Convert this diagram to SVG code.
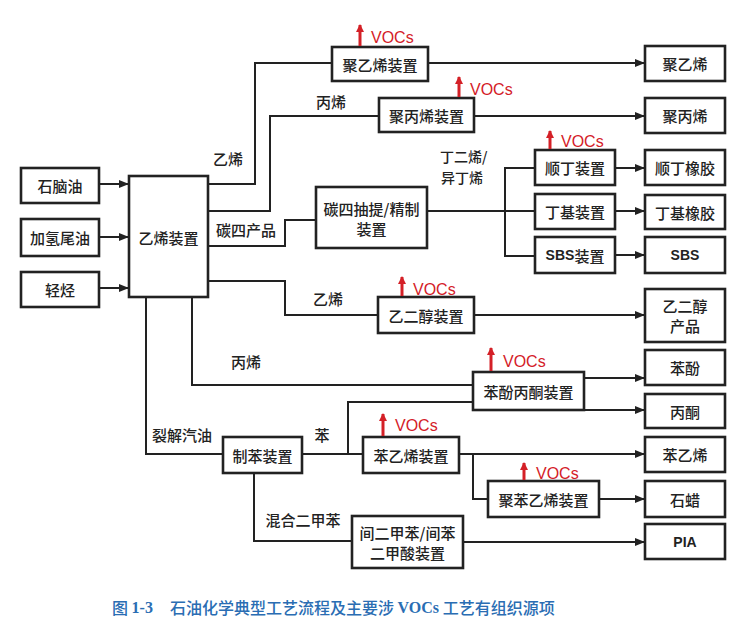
<svg xmlns="http://www.w3.org/2000/svg" width="746" height="637" viewBox="0 0 746 637">
<style>
.box{fill:#fff;stroke:#222;stroke-width:2.6}
.ln{fill:none;stroke:#222;stroke-width:2}
.arr{marker-end:url(#ah)}
.t{font-family:"Noto Sans CJK SC","Noto Sans",sans-serif;font-size:15px;font-weight:500;fill:#222;text-anchor:middle;dominant-baseline:central}
.l{font-family:"Noto Sans CJK SC","Noto Sans",sans-serif;font-size:14px;font-weight:500;fill:#222;dominant-baseline:central}
.lat{font-family:"Liberation Sans",sans-serif;font-weight:bold;font-size:14px}
.voc{font-family:"Liberation Sans",sans-serif;font-size:16px;fill:#d42027}
.va{stroke:#d42027;stroke-width:3;marker-end:url(#rh)}
.cap{font-family:"Noto Sans CJK SC",sans-serif;font-size:16px;font-weight:500;fill:#2a6db3;dominant-baseline:central}
.capl{font-family:"Liberation Serif",serif;font-weight:bold}
</style>
<defs>
<marker id="ah" markerWidth="10" markerHeight="8" refX="9" refY="4" orient="auto" markerUnits="userSpaceOnUse"><path d="M0,0 L10,4 L0,8 z" fill="#222"/></marker>
<marker id="rh" markerWidth="8" markerHeight="9" refX="7" refY="4" orient="auto" markerUnits="userSpaceOnUse"><path d="M0,0 L8,4 L0,8 z" fill="#d42027"/></marker>
</defs>
<rect width="746" height="637" fill="#fff"/>

<g id="connectors">
<path class="ln arr" d="M99,184 H128"/>
<path class="ln arr" d="M99,237 H128"/>
<path class="ln arr" d="M99,288 H128"/>
<path class="ln" d="M208,184 H255 V63 H332"/>
<path class="ln" d="M208,211 H270 V116 H379"/>
<path class="ln" d="M208,246 H285 V220 H316"/>
<path class="ln" d="M208,281 H285 V315 H378"/>
<path class="ln" d="M146,297 V454 H223"/>
<path class="ln" d="M192,297 V385 H473"/>
<path class="ln arr" d="M428,63 H644"/>
<path class="ln arr" d="M474,116 H644"/>
<path class="ln" d="M427,211 H535"/>
<path class="ln" d="M535,168 H505 V256 H535"/>
<path class="ln arr" d="M615,168 H644"/>
<path class="ln arr" d="M615,211 H644"/>
<path class="ln arr" d="M615,255 H644"/>
<path class="ln arr" d="M474,315 H644"/>
<path class="ln arr" d="M584,378 H644"/>
<path class="ln arr" d="M584,410 H644"/>
<path class="ln" d="M302,454 H363"/>
<path class="ln" d="M348,454 V402 H473"/>
<path class="ln arr" d="M459,454 H644"/>
<path class="ln" d="M473,454 V499 H488"/>
<path class="ln arr" d="M599,499 H644"/>
<path class="ln" d="M254,473 V541 H352"/>
<path class="ln arr" d="M463,542 H644"/>
</g>

<g id="edge-labels">
<text class="t" x="228" y="158">乙烯</text>
<text class="t" x="331" y="101">丙烯</text>
<text class="t" x="246" y="229">碳四产品</text>
<text class="t" x="328" y="298">乙烯</text>
<text class="l" x="440" y="156">丁二烯/<tspan x="441" dy="20.5">异丁烯</tspan></text>
<text class="t" x="246" y="361">丙烯</text>
<text class="t" x="182" y="434">裂解汽油</text>
<text class="t" x="322" y="434">苯</text>
<text class="t" x="303" y="519">混合二甲苯</text>
</g>

<g id="n-naphtha"><rect class="box" x="21" y="168" width="78" height="35"/><text class="t" x="60" y="185.5">石脑油</text></g>
<g id="n-hto"><rect class="box" x="21" y="219" width="78" height="37"/><text class="t" x="60" y="237.5">加氢尾油</text></g>
<g id="n-lh"><rect class="box" x="21" y="272" width="78" height="35"/><text class="t" x="60" y="289.5">轻烃</text></g>
<g id="n-ethylene"><rect class="box" x="129" y="176" width="79" height="121"/><text class="t" x="168.5" y="237">乙烯装置</text></g>

<g id="n-pe-unit"><rect class="box" x="332" y="47" width="96" height="34"/><text class="t" x="380" y="64">聚乙烯装置</text>
<line class="va" x1="360" y1="46" x2="360" y2="25"/><text class="voc" x="371" y="43">VOCs</text></g>
<g id="n-pp-unit"><rect class="box" x="379" y="98" width="95" height="34"/><text class="t" x="426.5" y="115">聚丙烯装置</text>
<line class="va" x1="459" y1="97" x2="459" y2="77"/><text class="voc" x="470" y="95">VOCs</text></g>
<g id="n-c4"><rect class="box" x="316" y="187" width="111" height="61"/><text class="t" x="371.5" y="208">碳四抽提/精制</text><text class="t" x="371.5" y="228">装置</text></g>

<g id="n-br-unit"><rect class="box" x="535" y="150" width="80" height="35"/><text class="t" x="575" y="167.5">顺丁装置</text>
<line class="va" x1="550" y1="149" x2="550" y2="131"/><text class="voc" x="561" y="147">VOCs</text></g>
<g id="n-iir-unit"><rect class="box" x="535" y="194" width="80" height="35"/><text class="t" x="575" y="211.5">丁基装置</text></g>
<g id="n-sbs-unit"><rect class="box" x="535" y="237" width="80" height="36"/><text class="t" x="575" y="255"><tspan class="lat">SBS</tspan>装置</text></g>

<g id="n-pe"><rect class="box" x="645" y="46" width="80" height="35"/><text class="t" x="685" y="63.5">聚乙烯</text></g>
<g id="n-pp"><rect class="box" x="645" y="98" width="80" height="35"/><text class="t" x="685" y="115.5">聚丙烯</text></g>
<g id="n-br"><rect class="box" x="645" y="150" width="80" height="35"/><text class="t" x="685" y="167.5">顺丁橡胶</text></g>
<g id="n-iir"><rect class="box" x="645" y="195" width="80" height="34"/><text class="t" x="685" y="212">丁基橡胶</text></g>
<g id="n-sbs"><rect class="box" x="645" y="237" width="80" height="36"/><text class="t lat" x="685" y="255">SBS</text></g>

<g id="n-eg-unit"><rect class="box" x="378" y="297" width="96" height="36"/><text class="t" x="426" y="315">乙二醇装置</text>
<line class="va" x1="402" y1="296" x2="402" y2="277"/><text class="voc" x="413" y="295">VOCs</text></g>
<g id="n-eg"><rect class="box" x="645" y="289" width="80" height="53"/><text class="t" x="685" y="305">乙二醇</text><text class="t" x="685" y="325">产品</text></g>

<g id="n-phenol-unit"><rect class="box" x="473" y="372" width="111" height="38"/><text class="t" x="528.5" y="391">苯酚丙酮装置</text>
<line class="va" x1="491" y1="371" x2="491" y2="348"/><text class="voc" x="503" y="367">VOCs</text></g>
<g id="n-phenol"><rect class="box" x="645" y="350" width="80" height="35"/><text class="t" x="685" y="367.5">苯酚</text></g>
<g id="n-acetone"><rect class="box" x="645" y="394" width="80" height="34"/><text class="t" x="685" y="411">丙酮</text></g>

<g id="n-benzene-unit"><rect class="box" x="223" y="437" width="79" height="36"/><text class="t" x="262.5" y="455">制苯装置</text></g>
<g id="n-sm-unit"><rect class="box" x="363" y="437" width="96" height="36"/><text class="t" x="411" y="455">苯乙烯装置</text>
<line class="va" x1="383" y1="436" x2="383" y2="414"/><text class="voc" x="395" y="431">VOCs</text></g>
<g id="n-sm"><rect class="box" x="645" y="437" width="80" height="35"/><text class="t" x="685" y="454.5">苯乙烯</text></g>
<g id="n-ps-unit"><rect class="box" x="488" y="481" width="111" height="36"/><text class="t" x="543.5" y="499">聚苯乙烯装置</text>
<line class="va" x1="524" y1="480" x2="524" y2="463"/><text class="voc" x="536" y="479">VOCs</text></g>
<g id="n-wax"><rect class="box" x="645" y="481" width="80" height="36"/><text class="t" x="685" y="499">石蜡</text></g>
<g id="n-pia-unit"><rect class="box" x="352" y="516" width="111" height="52"/><text class="t" x="407.5" y="532">间二甲苯/间苯</text><text class="t" x="407.5" y="552">二甲酸装置</text></g>
<g id="n-pia"><rect class="box" x="645" y="524" width="80" height="35"/><text class="t lat" x="685" y="541.5">PIA</text></g>

<g id="caption">
<text class="cap" x="112" y="607">图 <tspan class="capl">1-3</tspan></text>
<text class="cap" x="170" y="607">石油化学典型工艺流程及主要涉 <tspan class="capl">VOCs</tspan> 工艺有组织源项</text>
</g>
</svg>
